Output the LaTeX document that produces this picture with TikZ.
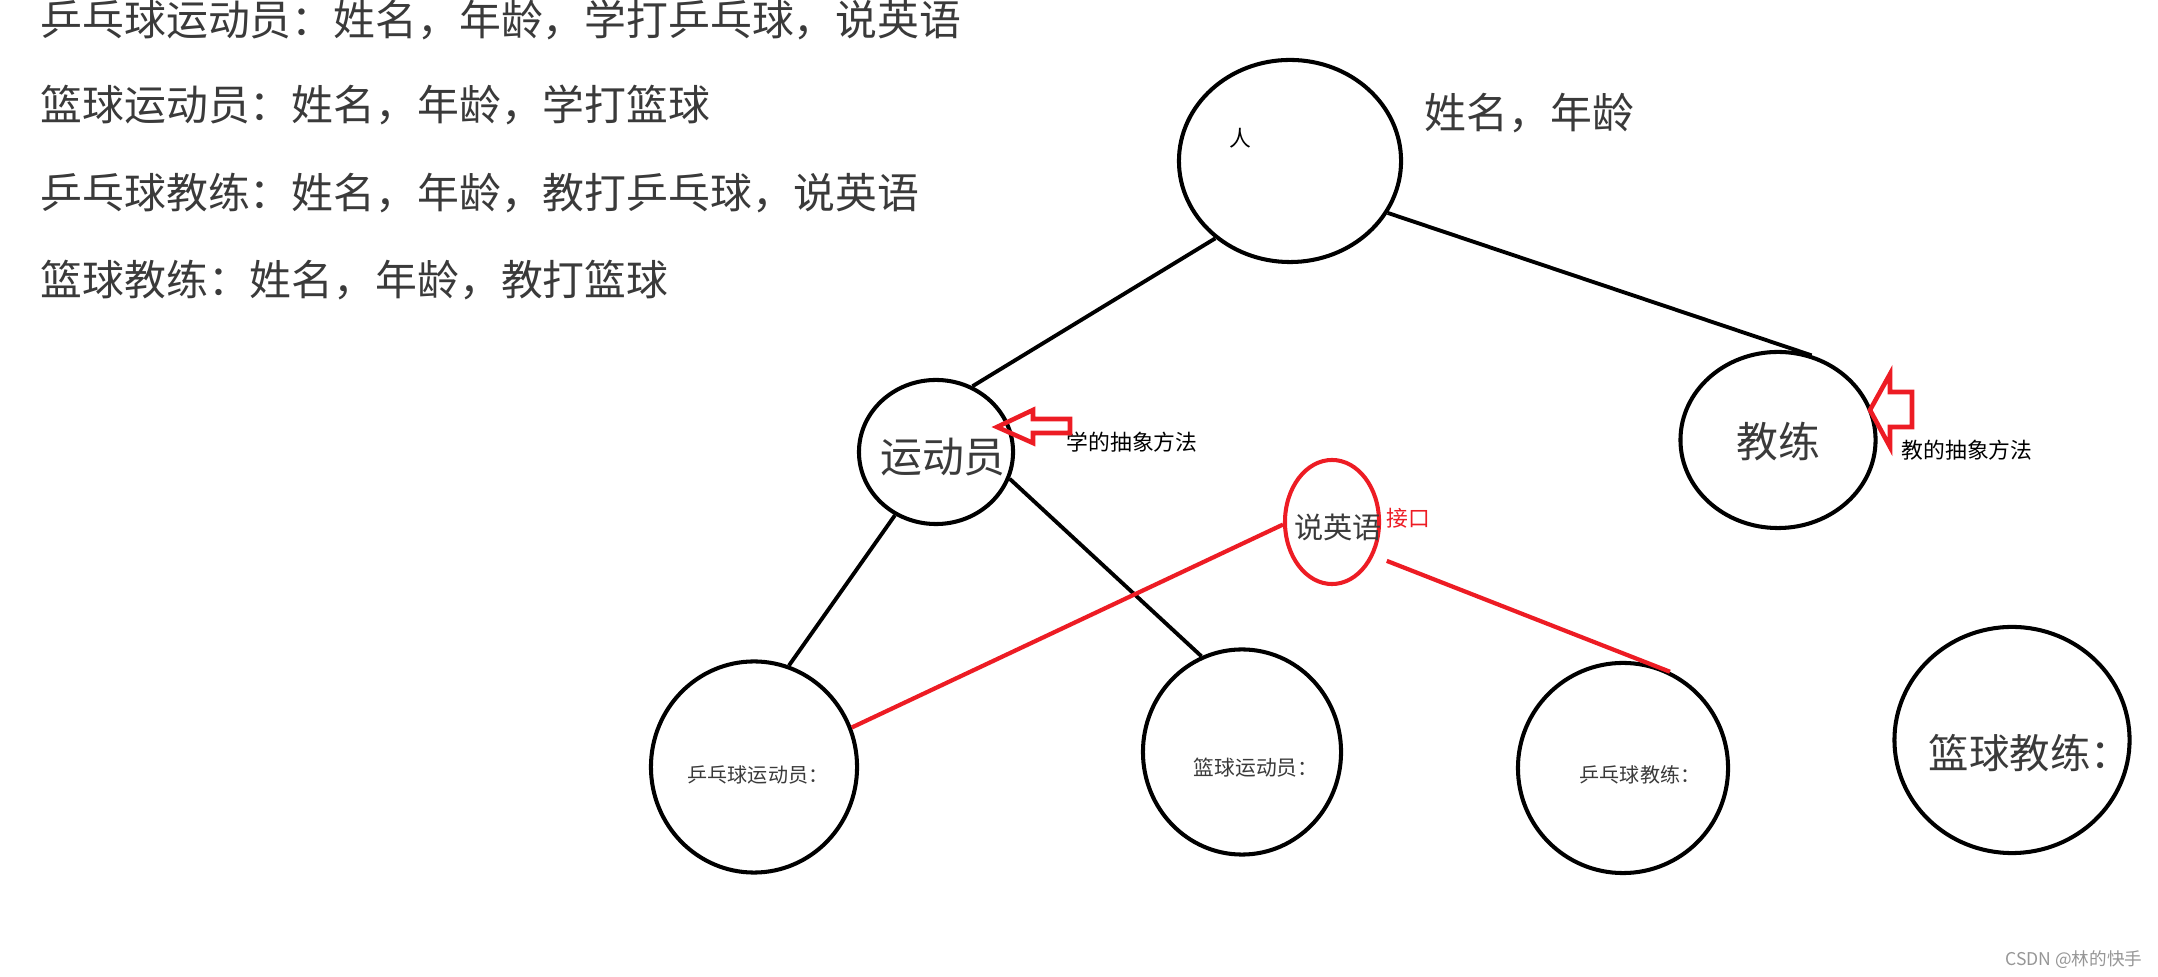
\documentclass[tikz,border=0pt]{standalone}
\usepackage{fontspec}
\setmainfont{Noto Sans CJK SC}
\usetikzlibrary{shapes.geometric}
\definecolor{paintred}{RGB}{237,28,36}
\definecolor{inkgray}{RGB}{58,58,58}
\definecolor{markgray}{RGB}{150,150,150}

\begin{document}
\begin{tikzpicture}[
  x=0.01cm, y=-0.01cm,
  ring/.style={draw, ellipse, line width=1.15pt, inner sep=0pt},
  edge/.style={line width=1.1pt},
  iface/.style={draw=paintred, line width=1.2pt},
  hollow/.style={draw=paintred, line width=1.3pt, line join=miter},
  bigtxt/.style={text=inkgray, inner sep=0pt, font=\fontsize{11.9pt}{14pt}\selectfont},
  midtxt/.style={text=inkgray, inner sep=0pt, font=\fontsize{8.3pt}{10pt}\selectfont},
  smalltxt/.style={text=inkgray, inner sep=0pt, font=\fontsize{5.7pt}{7pt}\selectfont},
  note/.style={inner sep=0pt, font=\fontsize{6.2pt}{7pt}\selectfont}
]
  \useasboundingbox (0,0) rectangle (2158,977);

  % the four roles, as text
  \node[bigtxt, anchor=west] (line1) at (40,20) {乒乓球运动员：姓名，年龄，学打乒乓球，说英语};
  \node[bigtxt, anchor=west] (line2) at (40,105) {篮球运动员：姓名，年龄，学打篮球};
  \node[bigtxt, anchor=west] (line3) at (40,193) {乒乓球教练：姓名，年龄，教打乒乓球，说英语};
  \node[bigtxt, anchor=west] (line4) at (40,280) {篮球教练：姓名，年龄，教打篮球};

  % rings
  \node[ring, minimum width=2.22cm, minimum height=2.02cm] (person) at (1290,161) {};
  \node[ring, minimum width=1.54cm, minimum height=1.44cm] (athlete) at (936,452) {};
  \node[ring, minimum width=1.95cm, minimum height=1.76cm] (coach) at (1778,440) {};
  \node[ring, draw=paintred, minimum width=0.94cm, minimum height=1.24cm] (english) at (1332,522) {};
  \node[ring, minimum width=2.06cm, minimum height=2.11cm] (ppPlayer) at (754,767) {};
  \node[ring, minimum width=1.98cm, minimum height=2.05cm] (bbPlayer) at (1242,752) {};
  \node[ring, minimum width=2.10cm, minimum height=2.10cm] (ppCoach) at (1623,768) {};
  \node[ring, minimum width=2.35cm, minimum height=2.26cm] (bbCoach) at (2012,740) {};

  % labels
  \node[note] (personTxt) at (1240,138) {人};
  \node[bigtxt, anchor=west] (personAttr) at (1424,113) {姓名，年龄};
  \node[bigtxt] (athleteTxt) at (943,457) {运动员};
  \node[bigtxt] (coachTxt) at (1778,442) {教练};
  \node[midtxt] (englishTxt) at (1338,527) {说英语};
  \node[note, text=paintred, anchor=west] (ifaceTxt) at (1386,518) {接口};
  \node[smalltxt] (ppPlayerTxt) at (758,775) {乒乓球运动员：};
  \node[smalltxt, font=\fontsize{5.9pt}{7pt}\selectfont] (bbPlayerTxt) at (1256,768) {篮球运动员：};
  \node[smalltxt] (ppCoachTxt) at (1640,775) {乒乓球教练：};
  \node[bigtxt, font=\fontsize{11.5pt}{14pt}\selectfont] (bbCoachTxt) at (2030,753) {篮球教练：};
  \node[note, anchor=west] (learnTxt) at (1066,442) {学的抽象方法};
  \node[note, anchor=west] (teachTxt) at (1901,450) {教的抽象方法};
  \node[text=markgray, inner sep=0pt, font=\fontsize{5pt}{6pt}\selectfont, anchor=east] (mark) at (2143,960) {CSDN @林的快手};

  % tree
  \draw[edge] (person.226) -- (athlete.61);
  \draw[edge, shorten >=2pt] (person.-28) -- (coach.64);
  \draw[edge] (athlete.237) -- (ppPlayer.71);
  \draw[edge] (athlete.-20) -- (bbPlayer.113);

  % interface
  \draw[iface] (ppPlayer.22) -- (english.183);
  \draw[iface, shorten <=4pt] (english.-39) -- (ppCoach.64);

  % hollow arrows
  \coordinate (learnTip) at (997,427);
  \coordinate (teachTip) at (1870,410);
  \draw[hollow] (learnTip) -- ++(36,-17) -- ++(0,9) -- ++(37,0) -- ++(0,14)
    -- ++(-37,0) -- ++(0,10) -- cycle;
  \draw[hollow] (teachTip) -- ++(20,-36) -- ++(0,18) -- ++(22,0) -- ++(0,35)
    -- ++(-22,0) -- ++(0,20) -- cycle;
\end{tikzpicture}
\end{document}
